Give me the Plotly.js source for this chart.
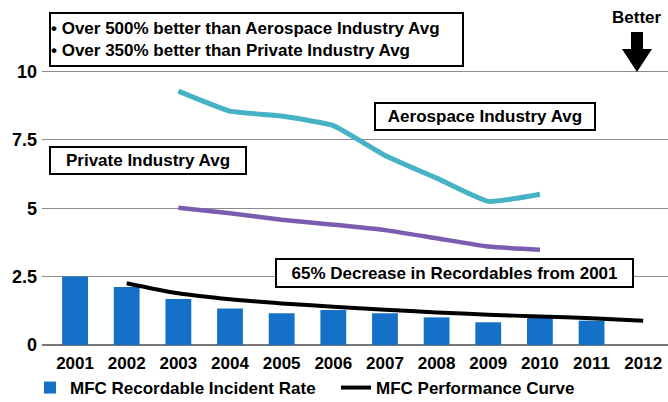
<!DOCTYPE html>
<html><head><meta charset="utf-8">
<script src="https://cdn.plot.ly/plotly-3.0.1.min.js"></script>
<style>body{margin:0;background:#fff}#c{width:668px;height:402px}</style>
</head><body><div id="c"></div>
<script>
const years = ['2001','2002','2003','2004','2005','2006','2007','2008','2009','2010','2011','2012'];
const mfcRate = [2.5, 2.12, 1.68, 1.33, 1.16, 1.28, 1.16, 1.01, 0.83, 0.99, 0.89, null];
const curveYears = ['2002','2003','2004','2005','2006','2007','2008','2009','2010','2011','2012'];
const perfCurve = [2.26, 1.89, 1.67, 1.52, 1.40, 1.29, 1.19, 1.11, 1.04, 0.98, 0.89];
const avgYears = ['2003','2004','2005','2006','2007','2008','2009','2010'];
const aerospaceAvg = [9.28, 8.55, 8.37, 8.02, 6.93, 6.1, 5.25, 5.51];
const privateAvg = [5.02, 4.82, 4.58, 4.4, 4.2, 3.9, 3.6, 3.48];
const yTicks = [0, 2.5, 5, 7.5, 10];
const yTickText = ['0', '2.5', '5', '7.5', '10'];

const FF = '"Liberation Sans", Arial, sans-serif';
const FS = 17;
const L = 42, T = 66, W = 626, H = 279;
const px = x => (x - L) / W;
const py = y => (T + H - y) / H;

const traces = [
  {type:'bar', x: years, y: mfcRate, name:'MFC Recordable Incident Rate', width:0.5,
   marker:{color:'#1570C8'}},
  {type:'scatter', mode:'lines', x: curveYears, y: perfCurve, name:'MFC Performance Curve',
   line:{color:'#000', width:4, shape:'spline', smoothing:0.8}},
  {type:'scatter', mode:'lines', x: avgYears, y: aerospaceAvg, name:'Aerospace Industry Avg', showlegend:false,
   line:{color:'#45B2C6', width:5, shape:'spline', smoothing:0.4}},
  {type:'scatter', mode:'lines', x: avgYears, y: privateAvg, name:'Private Industry Avg', showlegend:false,
   line:{color:'#7B5CB0', width:4.5, shape:'spline', smoothing:0.5}}
];

function box(text, cx, cy, w, h, align) {
  return {xref:'paper', yref:'paper', x: px(cx), y: py(cy), xanchor:'center', yanchor:'middle',
    text: text, showarrow:false, align: align || 'center', valign:'middle',
    width: w, height: h, bordercolor:'#000', borderwidth:2, borderpad:0, bgcolor:'#fff',
    font:{family:FF, size:FS, color:'#000', weight:'bold'}};
}

const layout = {
  width:668, height:402,
  margin:{l:L, r:0, t:T, b:402 - T - H, pad:0, autoexpand:false},
  paper_bgcolor:'#fff', plot_bgcolor:'#fff',
  showlegend:true,
  legend:{orientation:'h', x: px(30), y: py(370), xanchor:'left', yanchor:'top',
    font:{family:FF, size:FS, color:'#000', weight:'bold'}, itemwidth:30, tracegroupgap:0,
    entrywidth:261, entrywidthmode:'pixels', traceorder:'normal'},
  xaxis:{type:'category', categoryorder:'array', categoryarray: years, range:[-0.64, 11.48],
    showgrid:false, zeroline:false, showline:false, ticks:'', ticklabelstandoff:6,
    tickfont:{family:FF, size:FS, color:'#000', weight:'bold'}},
  yaxis:{range:[0, 10.2], tickvals: yTicks, ticktext: yTickText, showgrid:true, gridcolor:'#8c8c8c', gridwidth:1,
    zeroline:true, zerolinecolor:'#777', zerolinewidth:1.5, showline:false, ticks:'', ticklabelstandoff:4,
    tickfont:{family:FF, size:FS + 1, color:'#000', weight:'bold'}},
  bargap:0.5,
  annotations:[
    box('• Over 500% better than Aerospace Industry Avg<br>• Over 350% better than Private Industry Avg', 256.5, 39.5, 411, 51, 'left'),
    box('Aerospace Industry Avg', 484.5, 116, 218, 25),
    box('Private Industry Avg', 147.5, 160.5, 194, 25),
    box('65% Decrease in Recordables from 2001', 454.5, 273, 355, 26),
    {xref:'paper', yref:'paper', x: px(637), y: py(17), xanchor:'center', yanchor:'middle', showarrow:false,
     text:'Better', font:{family:FF, size:FS, color:'#000', weight:'bold'}}
  ],
  shapes:[
    {type:'path', xref:'paper', yref:'paper', fillcolor:'#000', line:{width:0},
     path: 'M ' + px(631) + ',' + py(32) + ' L ' + px(643) + ',' + py(32) + ' L ' + px(643) + ',' + py(49) +
           ' L ' + px(652) + ',' + py(49) + ' L ' + px(637) + ',' + py(72) + ' L ' + px(622) + ',' + py(49) +
           ' L ' + px(631) + ',' + py(49) + ' Z'}
  ]
};

Plotly.newPlot('c', traces, layout, {displayModeBar:false, staticPlot:true});
</script></body></html>
